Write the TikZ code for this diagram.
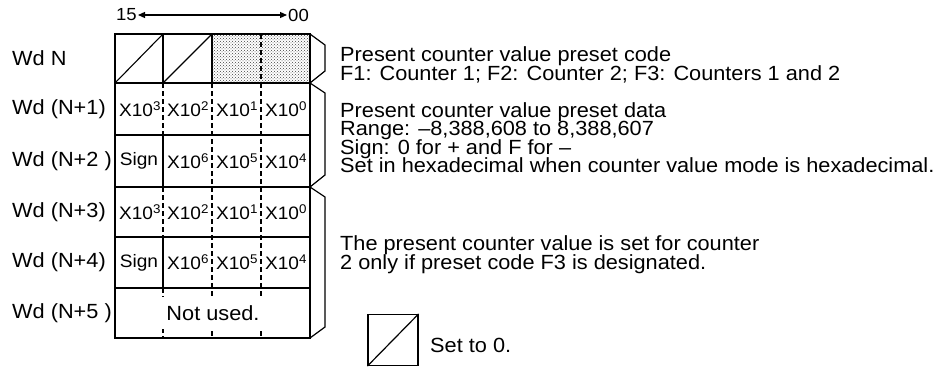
\documentclass[tikz,border=0pt]{standalone}
\usepackage{fontspec}
\setmainfont[FakeStretch=1.06]{Liberation Sans}
\usetikzlibrary{arrows.meta,patterns}
\begin{document}
\begin{tikzpicture}[x=1pt,y=-1pt,
  outerline/.style={line width=1.6pt},
  thinline/.style={line width=1.1pt},
  dashline/.style={line width=1.1pt,dash pattern=on 5pt off 3pt},
  braceline/.style={line width=1.2pt,line join=miter},
  rowlbl/.style={anchor=west,inner sep=0pt,font=\fontsize{20.5}{18.5}\selectfont},
  celltxt/.style={inner sep=0pt,font=\fontsize{18}{18}\selectfont},
  desc/.style={anchor=base west,inner sep=0pt,font=\fontsize{20.5}{18.5}\selectfont},
  bitlbl/.style={inner sep=1pt,font=\fontsize{17.5}{17.5}\selectfont},
  bitarrow/.style={line width=1.2pt,arrows={Triangle[length=7pt,width=6pt]-Triangle[length=7pt,width=6pt]}}]
\useasboundingbox (0,0) rectangle (943,367);

% stippled field
\fill[pattern=crosshatch dots,pattern color=black!75] (212,34) rectangle (310,83);

% horizontal row lines
\foreach \yy in {83,135,187,237,288}
  \draw[thinline] (115,\yy) -- (310,\yy);

% row N
\draw[thinline] (163,34) -- (163,83);
\draw[thinline] (212,34) -- (212,83);
\draw[dashline] (261,34) -- (261,83);
\draw[thinline] (115,83) -- (163,34);
\draw[thinline] (163,83) -- (212,34);

% column separators, rows N+1 .. N+5
\draw[dashline] (163,83) -- (163,135);
\draw[thinline] (163,135) -- (163,187);
\draw[dashline] (163,187) -- (163,237);
\draw[thinline] (163,237) -- (163,288);
\draw[dashline] (163,288) -- (163,338);
\draw[dashline] (212,83) -- (212,338);
\draw[dashline] (261,83) -- (261,338);

% outline
\draw[outerline] (115,34) rectangle (310,338);

% braces
\draw[braceline] (310,34) -- (325,45) -- (325,71) -- (310,83);
\draw[braceline] (310,83) -- (325,93) -- (325,175) -- (310,187);
\draw[braceline] (310,187) -- (325,197) -- (325,327) -- (310,338);

% bit range
\node[bitlbl,anchor=east] (n15) at (138,15) {15};
\node[bitlbl,anchor=west] (n00) at (287,15) {00};
\draw[bitarrow] (n15.east) -- (n00.west);

% row labels
\node[rowlbl] (wdN)  at (12,58.5) {Wd N};
\node[rowlbl] (wdN1) at (12,109)  {Wd (N+1)};
\node[rowlbl] (wdN2) at (12,161)  {Wd (N+2 )};
\node[rowlbl] (wdN3) at (12,212)  {Wd (N+3)};
\node[rowlbl] (wdN4) at (12,262.5){Wd (N+4)};
\node[rowlbl] (wdN5) at (12,313)  {Wd (N+5 )};

% cell contents
\node[celltxt] (c13) at (140,109) {X10\textsuperscript{3}};
\node[celltxt] (c12) at (188,109) {X10\textsuperscript{2}};
\node[celltxt] (c11) at (237,109) {X10\textsuperscript{1}};
\node[celltxt] (c10) at (286,109) {X10\textsuperscript{0}};
\node[celltxt] (c2s) at (139,161) {Sign};
\node[celltxt] (c26) at (188,161) {X10\textsuperscript{6}};
\node[celltxt] (c25) at (237,161) {X10\textsuperscript{5}};
\node[celltxt] (c24) at (286,161) {X10\textsuperscript{4}};
\node[celltxt] (c33) at (140,212) {X10\textsuperscript{3}};
\node[celltxt] (c32) at (188,212) {X10\textsuperscript{2}};
\node[celltxt] (c31) at (237,212) {X10\textsuperscript{1}};
\node[celltxt] (c30) at (286,212) {X10\textsuperscript{0}};
\node[celltxt] (c4s) at (139,262.5) {Sign};
\node[celltxt] (c46) at (188,262.5) {X10\textsuperscript{6}};
\node[celltxt] (c45) at (237,262.5) {X10\textsuperscript{5}};
\node[celltxt] (c44) at (286,262.5) {X10\textsuperscript{4}};
\node[fill=white,inner sep=0pt,minimum width=106pt,minimum height=32pt,
      font=\fontsize{20.5}{18.5}\selectfont] (nu) at (213,313) {Not used.};

% descriptions
\node[desc] (d1) at (340,61)    {Present counter value preset code};
\node[desc] (d2) at (340,80)    {F1: Counter 1; F2: Counter 2; F3: Counters 1 and 2};
\node[desc] (d3) at (340,117)   {Present counter value preset data};
\node[desc] (d4) at (340,135.5) {Range: \char"2013 8,388,608 to 8,388,607};
\node[desc] (d5) at (340,154)   {Sign: 0 for + and F for \char"2013};
\node[desc] (d6) at (340,172.5) {Set in hexadecimal when counter value mode is hexadecimal.};
\node[desc] (d7) at (340,250)   {The present counter value is set for counter};
\node[desc] (d8) at (340,269)   {2 only if preset code F3 is designated.};

% legend
\node[draw,line width=1.2pt,minimum width=50pt,minimum height=51pt,inner sep=0pt] (zbox) at (393,340) {};
\draw[line width=1.2pt] (zbox.south west) -- (zbox.north east);
\node[desc] (setz) at (430,352) {Set to 0.};
\end{tikzpicture}
\end{document}
